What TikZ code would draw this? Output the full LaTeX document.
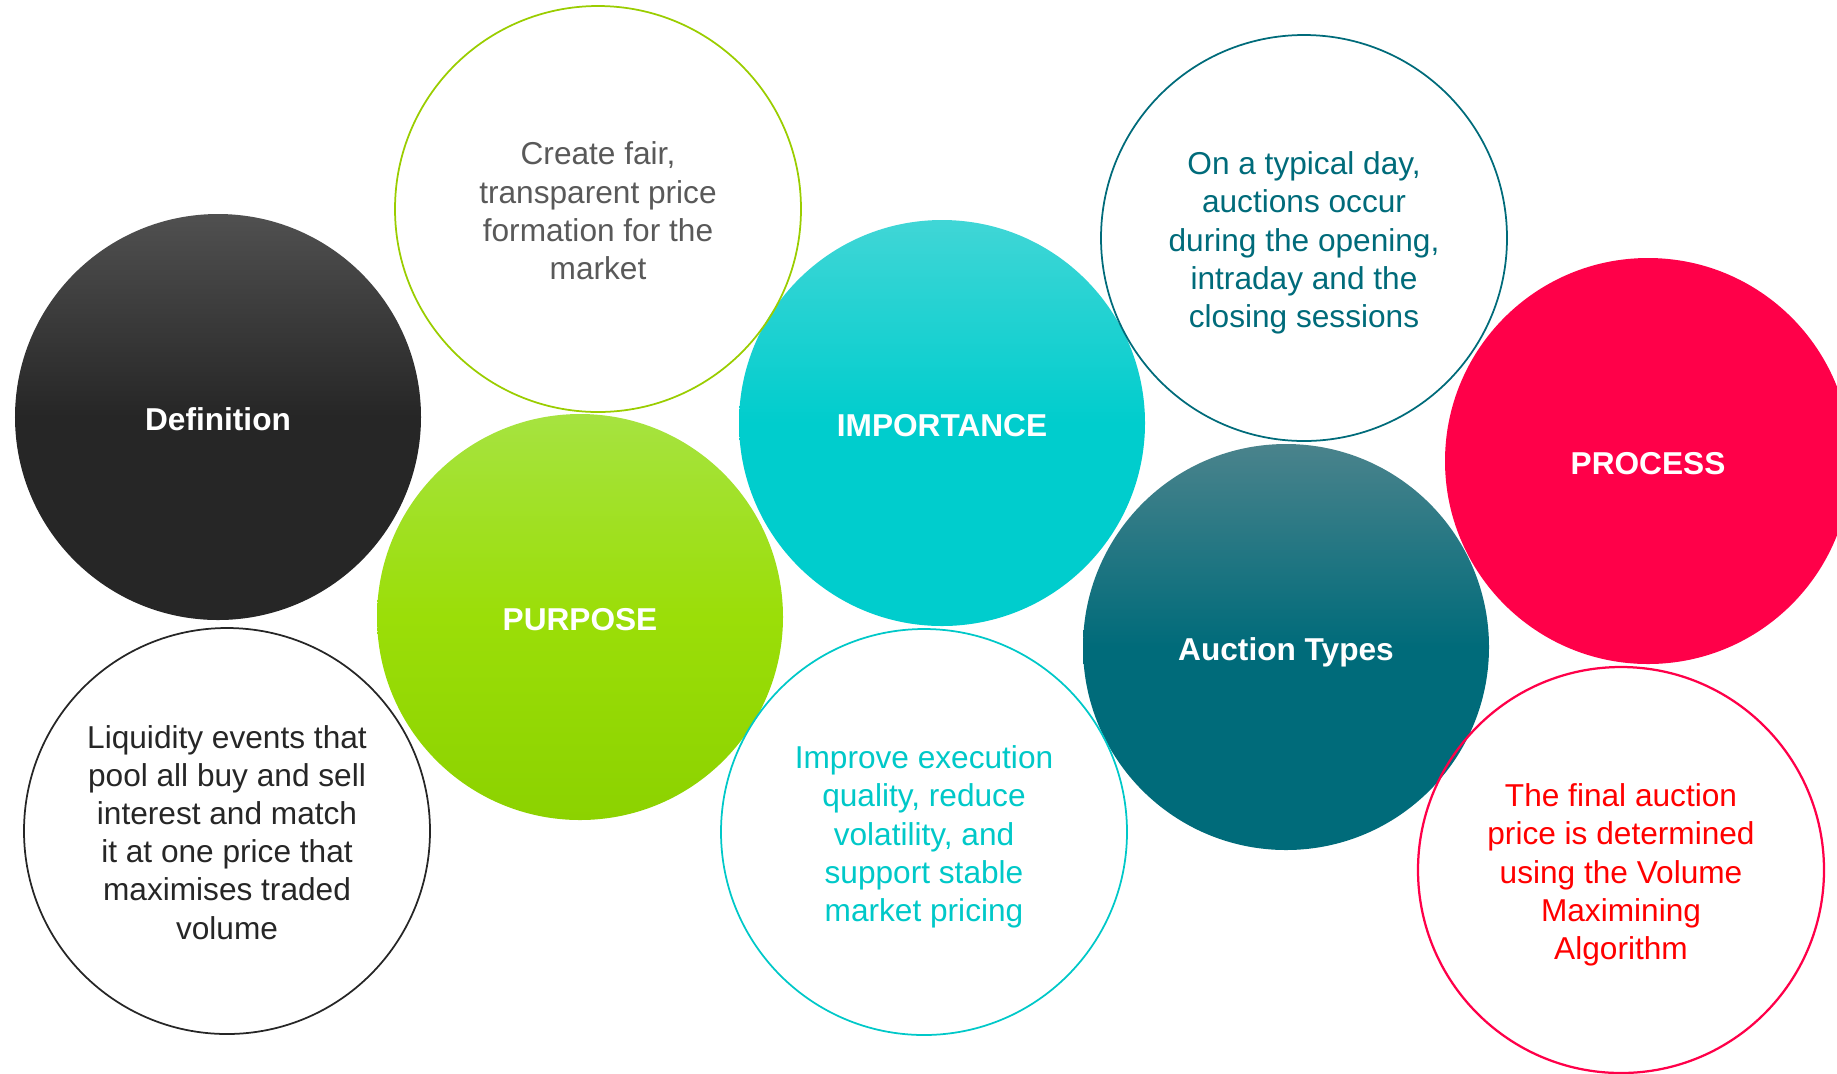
\documentclass[tikz,border=0pt]{standalone}
\usepackage{fontspec}
\setmainfont{Liberation Sans}
\usepackage{xcolor}
\usepackage{tikz}
\usetikzlibrary{positioning}

\definecolor{defTop}{HTML}{505050}
\definecolor{defBase}{HTML}{262626}
\definecolor{purTop}{HTML}{A6E340}
\definecolor{purMid}{HTML}{9BDE08}
\definecolor{purBase}{HTML}{8CD200}
\definecolor{impTop}{HTML}{40D6D6}
\definecolor{impBase}{HTML}{00CDCD}
\definecolor{aucTop}{HTML}{4A838C}
\definecolor{aucBase}{HTML}{006B7A}
\definecolor{procRed}{HTML}{FF0049}
\definecolor{limeLine}{HTML}{9ACD00}
\definecolor{greyText}{HTML}{595959}
\definecolor{tealLine}{HTML}{006B7A}
\definecolor{cyanLine}{HTML}{00C8C8}

\begin{document}
\begin{tikzpicture}[
    x=0.2mm, y=-0.2mm,
    bubble/.style={circle, minimum size=81.2mm, inner sep=0pt, text=white, text height=15.4pt, text depth=0pt, font=\fontsize{18}{21.7}\selectfont\bfseries},
    ring/.style={circle, minimum size=81.2mm, inner sep=0pt, line width=0.35mm, align=center, text height=#1, text depth=0pt, font=\fontsize{18}{21.7}\selectfont}
]
    \useasboundingbox (0,0) rectangle (1837,1073);

    \node[bubble, top color=defTop, bottom color=defBase, middle color=defBase] (definition) at (218,417) {Definition};
    \node[bubble, top color=purTop, bottom color=purBase, middle color=purMid] (purpose) at (580,617) {PURPOSE};
    \node[bubble, top color=impTop, bottom color=impBase, middle color=impBase] (importance) at (942,423) {IMPORTANCE};
    \node[bubble, top color=aucTop, bottom color=aucBase, middle color=aucBase] (types) at (1286,647) {Auction Types};
    \node[bubble, fill=procRed] (process) at (1648,461) {PROCESS};

    \node[ring=123pt, draw=defBase, text=defBase] (definitionText) at (227,831) {Liquidity events that\\pool all buy and sell\\interest and match\\it at one price that\\maximises traded\\volume};
    \node[ring=80pt, draw=limeLine, text=greyText] (purposeText) at (598,209) {Create fair,\\transparent price\\formation for the\\market};
    \node[ring=101.7pt, draw=cyanLine, text=cyanLine] (importanceText) at (924,832) {Improve execution\\quality, reduce\\volatility, and\\support stable\\market pricing};
    \node[ring=101.7pt, draw=tealLine, text=tealLine] (typesText) at (1304,238) {On a typical day,\\auctions occur\\during the opening,\\intraday and the\\closing sessions};
    \node[ring=101.7pt, draw=procRed, text=red, line width=0.45mm] (processText) at (1621,870) {The final auction\\price is determined\\using the Volume\\Maximining\\Algorithm};
\end{tikzpicture}
\end{document}
